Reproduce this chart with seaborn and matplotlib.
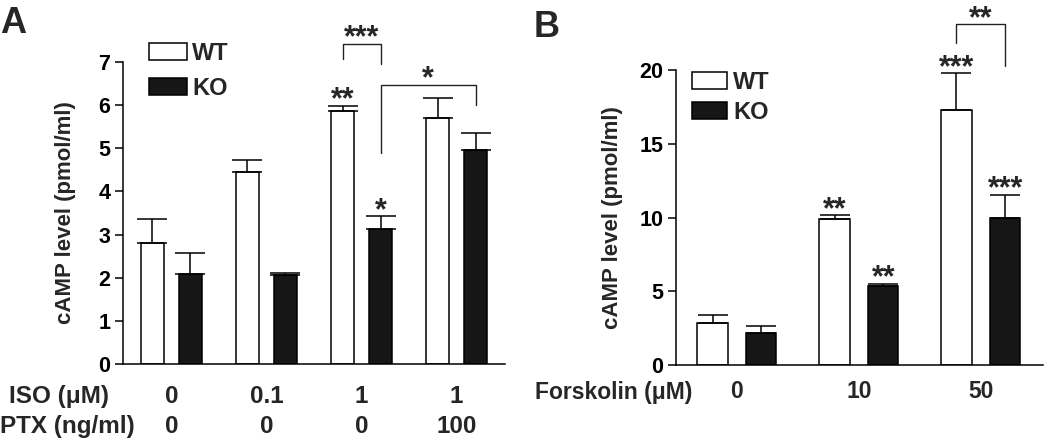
import numpy as np
import pandas as pd
import seaborn as sns
import matplotlib.pyplot as plt

# Panel A: ISO / PTX
iso_labels = ["0", "0.1", "1", "1"]
ptx_labels = ["0", "0", "0", "100"]
wt_a = [2.80, 4.45, 5.87, 5.71]
wt_a_err = [0.56, 0.28, 0.12, 0.45]
ko_a = [2.08, 2.07, 3.12, 4.95]
ko_a_err = [0.49, 0.05, 0.31, 0.40]
sig_a_wt = ["", "", "**", ""]
sig_a_ko = ["", "", "*", ""]

# Panel B: Forskolin
forsk_labels = ["0", "10", "50"]
wt_b = [2.82, 9.88, 17.29]
wt_b_err = [0.55, 0.29, 2.48]
ko_b = [2.15, 5.38, 9.94]
ko_b_err = [0.49, 0.13, 1.59]
sig_b_wt = ["", "**", "***"]
sig_b_ko = ["", "**", "***"]

genotypes = ["WT", "KO"]
palette = {"WT": "white", "KO": "#161616"}

sns.set_style("ticks")
plt.rcParams["font.family"] = ["Liberation Sans", "DejaVu Sans"]
plt.rcParams["font.weight"] = "bold"
plt.rcParams["axes.labelweight"] = "bold"

W, H = 1050, 442
fig = plt.figure(figsize=(W / 100, H / 100), dpi=100)


def px_axes(l, t, r, b):
    return fig.add_axes([l / W, 1 - b / H, (r - l) / W, (b - t) / H])


def make_df(groups, wt, ko):
    return pd.DataFrame({
        "group": list(groups) * 2,
        "genotype": ["WT"] * len(wt) + ["KO"] * len(ko),
        "value": list(wt) + list(ko),
    })


def star(ax, x, y, s):
    ax.annotate(s, (x, y), xytext=(0, -2), textcoords="offset points",
                ha="center", va="baseline", fontsize=22, fontweight="bold",
                annotation_clip=False)


def bracket(ax, x1, x2, top, y1, y2, s):
    ax.plot([x1, x1, x2, x2], [y1, top, top, y2], color="#222222", lw=1.0,
            clip_on=False)
    star(ax, (x1 + x2) / 2, top, s)


def draw_panel(ax, groups, wt, wt_err, ko, ko_err, sig_wt, sig_ko, capsize):
    df = make_df(groups, wt, ko)
    sns.barplot(data=df, x="group", y="value", hue="genotype", order=groups,
                hue_order=genotypes, palette=palette, saturation=1,
                edgecolor="black", linewidth=1.1, gap=0.38, errorbar=None,
                legend=False, ax=ax)
    centers = []
    for cont, err in zip(ax.containers, [wt_err, ko_err]):
        xs = [p.get_x() + p.get_width() / 2 for p in cont.patches]
        ys = [p.get_height() for p in cont.patches]
        ax.errorbar(xs, ys, yerr=[np.zeros(len(err)), err], fmt="none",
                    ecolor="black", elinewidth=1.1, capsize=capsize,
                    capthick=1.1, zorder=1)
        centers.append(xs)
    for xs, vals, errs, sig in [(centers[0], wt, wt_err, sig_wt),
                                (centers[1], ko, ko_err, sig_ko)]:
        for x, v, e, s in zip(xs, vals, errs, sig):
            if s:
                star(ax, x, v + e, s)
    return centers


def style(ax, ylim, yticks, xsize, xpad, linesp):
    ax.set_ylim(*ylim)
    ax.set_yticks(yticks)
    sns.despine(ax=ax)
    for sp in ["left", "bottom"]:
        ax.spines[sp].set_linewidth(1.1)
        ax.spines[sp].set_color("black")
    ax.tick_params(axis="y", direction="out", length=6, width=1.1,
                   labelsize=15.5, pad=3, colors="black")
    ax.tick_params(axis="x", length=0, labelsize=xsize, pad=xpad)
    for t in ax.get_xticklabels():
        t.set_linespacing(linesp)
    ax.set_xlabel("")
    ax.set_ylabel("cAMP level (pmol/ml)", fontsize=16)


# ---- Panel A ----
axA = px_axes(123, 62, 505, 364)
groups_a = [f"{a}\n{b}" for a, b in zip(iso_labels, ptx_labels)]
cA = draw_panel(axA, groups_a, wt_a, wt_a_err, ko_a, ko_a_err,
                sig_a_wt, sig_a_ko, capsize=11)
axA.set_xlim(-0.51, 3.51)
style(axA, (0, 7), range(0, 8), 17.5, 15, 1.38)
axA.yaxis.set_label_coords(-0.123, 0.5)
bracket(axA, cA[0][2], cA[1][2], 7.42, 7.07, 6.95, "***")
bracket(axA, cA[1][2], cA[1][3], 6.47, 4.89, 6.0, "*")
axA.legend(handles=axA.containers, labels=genotypes, loc="upper left",
           bbox_to_anchor=(149 / W, 1 - 42 / H),
           bbox_transform=fig.transFigure, frameon=False, fontsize=17,
           handlelength=1.6, handleheight=0.76, handletextpad=0.22,
           labelspacing=0.5, borderpad=0, borderaxespad=0)

# ---- Panel B ----
axB = px_axes(676, 70, 1043, 365)
cB = draw_panel(axB, forsk_labels, wt_b, wt_b_err, ko_b, ko_b_err,
                sig_b_wt, sig_b_ko, capsize=11)
axB.set_xlim(-0.5, 2.51)
style(axB, (0, 20), range(0, 21, 5), 16.5, 11, 1.25)
axB.yaxis.set_label_coords(-0.144, 0.5)
bracket(axB, cB[0][2], cB[1][2], 23.1, 21.8, 20.3, "**")
axB.legend(handles=axB.containers, labels=genotypes, loc="upper left",
           bbox_to_anchor=(692 / W, 1 - 71 / H),
           bbox_transform=fig.transFigure, frameon=False, fontsize=17,
           handlelength=1.5, handleheight=0.72, handletextpad=0.25,
           labelspacing=0.3, borderpad=0, borderaxespad=0)

# row titles under the x axes
fig.text(9 / W, 1 - 396 / H, "ISO (\u03bcM)", fontsize=17.5, va="center")
fig.text(0 / W, 1 - 426 / H, "PTX (ng/ml)", fontsize=17.5, va="center")
fig.text(535 / W, 1 - 392 / H, "Forskolin (\u03bcM)", fontsize=16.5,
         va="center")

# panel letters
fig.text(0 / W, 1 - 33 / H, "A", fontsize=26, va="baseline")
fig.text(534 / W, 1 - 37 / H, "B", fontsize=26, va="baseline")

fig.savefig("out.png", dpi=100)
